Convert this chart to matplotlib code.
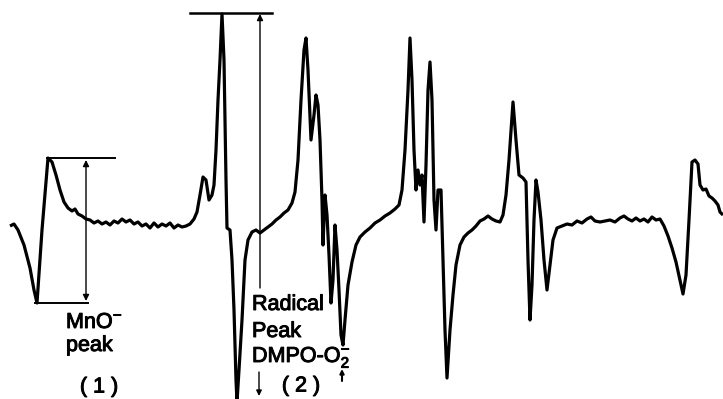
import matplotlib
matplotlib.use("Agg")
import matplotlib.pyplot as plt
import matplotlib.patheffects as pe


# ==========================================
# ESR trace
# (field position, pen deflection; deflection grows downward)
# ==========================================

field = [
    10, 14, 18, 24, 30, 34, 37, 42, 48, 52, 56, 60, 64, 68, 72, 75, 78, 82,
    86, 90, 94, 98, 102, 106, 110, 114, 118, 122, 126, 130, 134, 138, 142,
    146, 150, 154, 158, 162, 166, 170, 174, 178, 182, 186, 190, 194, 197,
    200, 203, 206, 209, 212, 214, 216, 218, 220, 222, 224, 226, 227, 230,
    232, 234, 236, 237, 239, 242, 245, 248, 252, 256, 260, 264, 268, 272,
    276, 280, 284, 288, 292, 295, 298, 301, 304, 306, 308, 311, 314, 316,
    318, 320, 322, 323, 325, 327, 329, 331, 333, 335, 337, 339, 341, 343,
    345, 348, 352, 356, 360, 365, 370, 375, 380, 385, 390, 395, 399, 402,
    405, 408, 410, 412, 414, 416, 418, 420, 422, 424, 426, 428, 430, 432,
    434, 436, 438, 441, 443, 445, 447, 450, 453, 456, 460, 464, 468, 472,
    476, 480, 484, 488, 492, 496, 500, 503, 506, 509, 513, 516, 519, 523,
    526, 528, 530, 532, 534, 536, 538, 541, 544, 547, 550, 553, 557, 562,
    567, 572, 577, 582, 587, 591, 595, 600, 605, 610, 615, 620, 624, 628,
    632, 636, 640, 644, 648, 652, 656, 660, 664, 668, 672, 676, 680, 683,
    686, 689, 692, 695, 698, 700, 703, 706, 709, 712, 715, 718, 720, 723,
]

deflection = [
    226, 224, 230, 245, 268, 290, 303, 230, 158, 162, 175, 190, 202, 208,
    211, 209, 214, 216, 219, 220, 223, 221, 224, 222, 225, 221, 223, 219,
    222, 220, 224, 222, 226, 224, 228, 223, 227, 224, 226, 223, 228, 225,
    227, 226, 224, 219, 212, 195, 177, 180, 200, 195, 185, 150, 100, 60,
    14, 60, 180, 228, 230, 260, 310, 380, 402, 370, 320, 260, 240, 232,
    230, 233, 230, 227, 224, 220, 217, 213, 210, 203, 192, 160, 100, 50,
    38, 70, 140, 115, 95, 105, 140, 200, 245, 195, 215, 255, 303, 280, 225,
    250, 290, 335, 345, 320, 285, 262, 245, 237, 232, 228, 223, 220, 216,
    213, 209, 205, 190, 150, 90, 38, 80, 150, 190, 170, 185, 175, 222, 165,
    90, 62, 100, 200, 230, 190, 190, 260, 330, 378, 330, 295, 265, 245, 237,
    233, 230, 226, 221, 219, 216, 219, 221, 222, 215, 195, 160, 102, 140,
    175, 178, 182, 260, 320, 285, 220, 180, 192, 220, 260, 290, 265, 240,
    228, 226, 224, 225, 221, 223, 219, 217, 221, 222, 221, 220, 222, 218,
    216, 219, 221, 218, 221, 219, 222, 217, 220, 219, 226, 236, 248, 262,
    280, 294, 275, 220, 162, 160, 164, 185, 190, 189, 196, 198, 201, 205,
    212, 215,
]


# ==========================================
# Figure
# ==========================================

plt.rcParams["font.family"] = ["Liberation Sans", "DejaVu Sans"]
plt.rcParams["mathtext.default"] = "regular"

fig = plt.figure(figsize=(7.23, 3.99), dpi=100)
ax = fig.add_axes([0, 0, 1, 1])
ax.set_xlim(0, 723)
ax.set_ylim(399, 0)
ax.axis("off")

ax.plot(field, deflection, color="black", linewidth=2.3,
        solid_joinstyle="round", solid_capstyle="butt")

# scanned lettering is a bit heavier than a clean font
ink = [pe.withStroke(linewidth=0.7, foreground="black")]
label = dict(fontsize=15.5, color="black", path_effects=ink)


# ==========================================
# MnO- peak bracket
# ==========================================

ax.plot([47, 115], [158, 158], color="black", linewidth=1.4)
ax.plot([35, 88], [303, 303], color="black", linewidth=1.4)
ax.annotate("", xy=(86, 160), xytext=(86, 301),
            arrowprops=dict(arrowstyle="<|-|>", color="black", lw=1.0,
                            mutation_scale=9, shrinkA=0, shrinkB=0))

ax.text(66, 328, "MnO$^{-}$", ha="left", va="baseline", **label)
ax.text(66, 351, "peak", ha="left", va="baseline", **label)
ax.text(99, 387, "( 1 )", ha="center", va="center", **label)


# ==========================================
# Radical peak bracket
# ==========================================

ax.plot([190, 272], [13, 13], color="black", linewidth=1.8)
ax.annotate("", xy=(260, 14), xytext=(260, 288),
            arrowprops=dict(arrowstyle="-|>", color="black", lw=1.0,
                            mutation_scale=9, shrinkA=0, shrinkB=0))
ax.annotate("", xy=(259, 396), xytext=(259, 372),
            arrowprops=dict(arrowstyle="-|>", color="black", lw=1.0,
                            mutation_scale=8, shrinkA=0, shrinkB=0))
ax.annotate("", xy=(342, 369), xytext=(342, 381),
            arrowprops=dict(arrowstyle="-|>", color="black", lw=1.5,
                            mutation_scale=6, shrinkA=0, shrinkB=0))

ax.text(252, 310, "Radical", ha="left", va="baseline", **label)
ax.text(252, 337, "Peak", ha="left", va="baseline", **label)
ax.text(252, 362, "DMPO-O$_{2}^{-}$", ha="left", va="baseline", **label)
ax.text(301, 386, "( 2 )", ha="center", va="center", **label)

fig.savefig("out.png", dpi=100)
